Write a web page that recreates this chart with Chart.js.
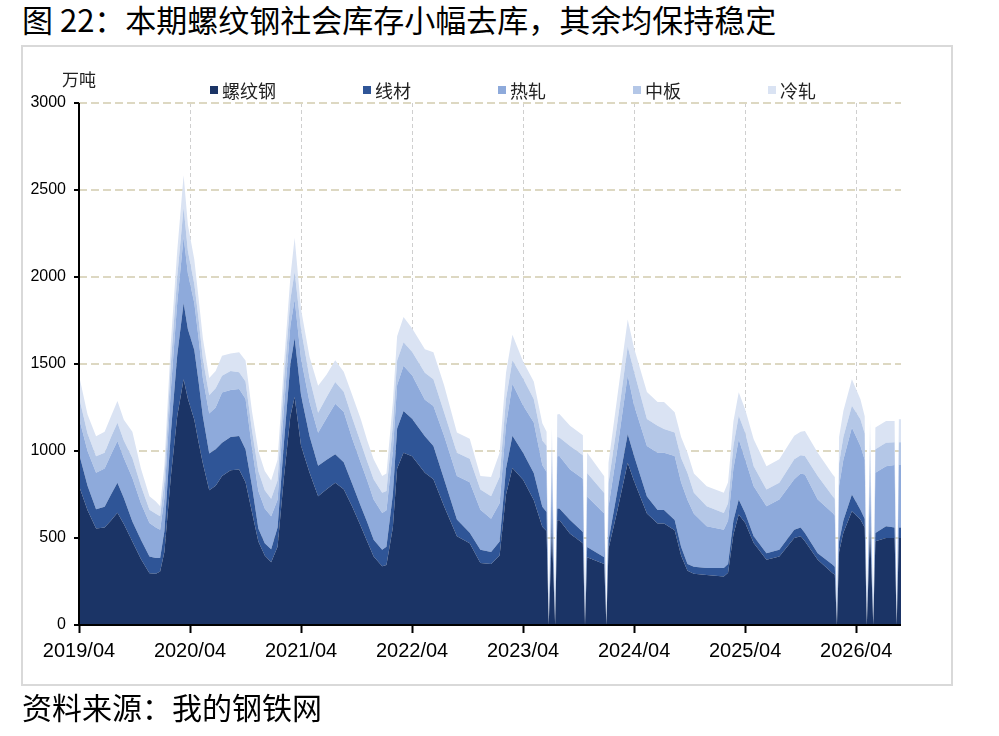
<!DOCTYPE html>
<html>
<head>
<meta charset="utf-8">
<script src="https://cdn.jsdelivr.net/npm/chart.js@4.4.1/dist/chart.umd.min.js"></script>
<style>
  body { margin: 0; background: #fff; width: 999px; height: 736px; position: relative; overflow: hidden; }
  #title { position: absolute; left: 22px; top: 3px; font: 31px/31px "Noto Sans CJK SC", sans-serif; color: #000; white-space: nowrap; }
  #frame { position: absolute; left: 21px; top: 45px; width: 928px; height: 637px; border: 2px solid #d9d9d9; }
  #unit { position: absolute; left: 62px; top: 70px; font: 17px/17px "Noto Sans CJK SC", sans-serif; color: #222; }
  #legend { position: absolute; left: 210px; top: 81px; display: flex; gap: 87px; font: 18px/18px "Noto Sans CJK SC", sans-serif; color: #222; }
  #legend span.item { display: flex; align-items: center; }
  #legend i { display: inline-block; width: 8px; height: 8px; margin-right: 4px; }
  #c { position: absolute; left: 0; top: 0; }
  #source { position: absolute; left: 22px; top: 691px; font: 30px/30px "Noto Sans CJK SC", sans-serif; color: #000; white-space: nowrap; }
</style>
</head>
<body>
<div id="title">图 22：本期螺纹钢社会库存小幅去库，其余均保持稳定</div>
<div id="frame"></div>
<canvas id="c" width="999" height="736"></canvas>
<div id="unit">万吨</div>
<div id="legend"></div>
<div id="source">资料来源：我的钢铁网</div>
<script>
// weeks counted from 2019/04
var weeks = [0,4,8,12,15,18,21,25,29,33,
  36,38,40,43,46,49,51,54,56,58,
  61,64,67,71,75,78,81,84,87,90,
  93,96,99,101,104,108,112,116,120,124,
  128,132,135,138,142,144,147,149,152,156,
  162,166,171,177,183,188,193,197,200,203,
  208,213,217,219,220,221.5,223,224,225,230,
  236,237,238,246,247,248,252,257,260,266,
  271,274,279,282,285,288,294,302,304,306.5,
  309,312,316,322,328,335,338,340,346,353,
  354,355,356,358,362,366,368,369,370.5,372,
  373,378,382,383,384,385];

var rebar = [800,660,555,560,600,645,580,480,380,298,
  295,308,420,850,1200,1413,1300,1180,1050,930,
  775,800,856,890,894,820,650,480,400,360,
  450,850,1200,1310,1030,875,740,780,817,780,
  680,567,480,394,337,345,560,900,990,970,
  875,837,683,510,470,356,350,400,750,903,
  835,719,564,540,0,535,0,600,603,525,
  470,0,390,351,0,438,650,932,826,641,
  583,583,545,400,312,295,288,279,300,520,
  635,587,471,375,394,500,510,481,375,298,
  290,0,420,530,654,606,560,0,548,0,
  481,500,500,0,500,500];

var wire = [185,140,110,120,150,172,150,115,110,96,
  90,77,120,250,350,437,400,400,350,270,
  210,210,192,190,192,190,150,75,70,75,
  110,200,300,340,290,210,175,170,165,155,
  130,115,110,96,96,105,190,230,240,215,
  210,192,155,96,60,77,70,80,150,184,
  155,155,116,110,0,85,0,70,67,78,
  65,0,58,39,0,48,110,165,145,97,
  78,78,58,50,39,40,39,48,50,80,
  86,57,39,38,39,48,50,48,38,48,
  45,0,60,70,96,57,50,0,42,0,
  48,67,60,0,60,60];

var hotRolled = [205,200,210,220,230,241,230,250,210,192,
  175,163,190,250,300,380,320,270,250,220,
  230,240,288,270,270,290,220,215,200,190,
  160,200,220,220,210,195,190,240,290,290,
  260,250,240,231,211,210,250,250,260,250,
  210,230,250,250,290,230,190,220,250,300,
  272,290,240,230,0,280,0,300,301,290,
  305,0,290,251,0,194,240,339,291,291,
  329,329,368,370,368,305,240,221,250,300,
  346,308,288,270,288,289,310,336,308,298,
  295,0,320,350,385,366,340,0,290,0,
  346,346,360,0,360,360];

var plate = [120,100,95,90,100,105,100,115,100,77,
  80,77,100,150,150,170,130,110,110,110,
  105,110,97,110,96,100,100,115,105,100,
  110,150,150,160,170,140,115,120,125,115,
  120,115,110,116,116,110,150,140,135,135,
  155,153,135,134,135,116,130,150,150,135,
  155,135,140,150,0,130,0,110,107,136,
  135,0,136,117,0,136,150,165,193,155,
  155,136,136,140,155,120,116,96,100,130,
  135,154,115,96,96,115,105,106,135,96,
  95,0,130,130,125,154,150,0,160,0,
  135,135,130,0,130,130];

var coldRolled = [125,110,115,120,120,125,120,150,100,77,
  70,58,90,120,150,185,150,140,120,120,
  100,100,115,100,115,120,110,115,110,105,
  120,100,130,195,115,120,155,130,125,115,
  130,135,120,115,96,100,130,140,145,135,
  135,155,155,116,115,77,110,140,150,146,
  97,100,100,80,0,105,0,130,135,116,
  115,0,116,97,0,116,150,155,136,155,
  136,155,116,120,116,110,115,116,120,140,
  135,134,154,134,135,135,135,144,134,125,
  125,0,150,150,153,115,100,0,143,0,
  125,125,123,0,133,133];

var seriesNames = ['螺纹钢', '线材', '热轧', '中板', '冷轧'];
var seriesColors = ['#1b3466', '#2f5597', '#8eaadb', '#b4c7e7', '#dae3f3'];
var tickLabels = ['2019/04', '2020/04', '2021/04', '2022/04', '2023/04', '2024/04', '2025/04', '2026/04'];

var allSeries = [rebar, wire, hotRolled, plate, coldRolled];

var datasets = allSeries.map(function(values, k) {
  return {
    label: seriesNames[k],
    data: values.map(function(v, i) { return {x: weeks[i], y: v}; }),
    backgroundColor: seriesColors[k],
    borderColor: seriesColors[k],
    borderWidth: 0,
    pointRadius: 0,
    tension: 0,
    fill: k === 0 ? 'origin' : '-1'
  };
});

// legend as html
var legend = document.getElementById('legend');
seriesNames.forEach(function(name, k) {
  var item = document.createElement('span');
  item.className = 'item';
  item.innerHTML = '<i style="background:' + seriesColors[k] + '"></i>' + name;
  legend.appendChild(item);
});

// axis lines over the filled areas
var axisLines = {
  id: 'axisLines',
  afterDatasetsDraw: function(chart) {
    var ctx = chart.ctx, a = chart.chartArea;
    ctx.save();
    ctx.strokeStyle = '#000';
    ctx.lineWidth = 2;
    ctx.beginPath();
    ctx.moveTo(a.left, a.top);
    ctx.lineTo(a.left, a.bottom);
    ctx.lineTo(a.right, a.bottom);
    ctx.stroke();
    ctx.restore();
  }
};

new Chart(document.getElementById('c'), {
  type: 'line',
  data: { datasets: datasets },
  plugins: [axisLines],
  options: {
    responsive: false,
    animation: false,
    layout: { padding: { left: 10, right: 98, top: 103, bottom: 71 } },
    plugins: { legend: { display: false }, tooltip: { enabled: false } },
    scales: {
      x: {
        type: 'linear',
        min: 0,
        max: 385,
        afterFit: function(s) { s.height = 40; },
        afterBuildTicks: function(s) {
          s.ticks = tickLabels.map(function(t, i) { return {value: i * 52}; });
        },
        ticks: {
          padding: 6,
          color: '#000',
          font: { family: 'Liberation Sans', size: 20 },
          maxRotation: 0,
          autoSkip: false,
          callback: function(v) { return tickLabels[Math.round(v / 52)]; }
        },
        grid: { color: '#cfcfcf', lineWidth: 1, tickLength: 8, tickColor: '#000', tickWidth: 2 },
        border: { display: false, dash: [4, 3] }
      },
      y: {
        stacked: true,
        min: 0,
        max: 3000,
        afterFit: function(s) { s.width = 69; },
        ticks: {
          stepSize: 500,
          padding: 8,
          color: '#000',
          font: { family: 'Liberation Sans', size: 16 },
          callback: function(v) { return String(v); }
        },
        grid: { color: '#ddd8c2', lineWidth: 2, tickLength: 5, tickColor: '#000', tickWidth: 2 },
        border: { display: false, dash: [8, 4] }
      }
    }
  }
});
</script>
</body>
</html>
